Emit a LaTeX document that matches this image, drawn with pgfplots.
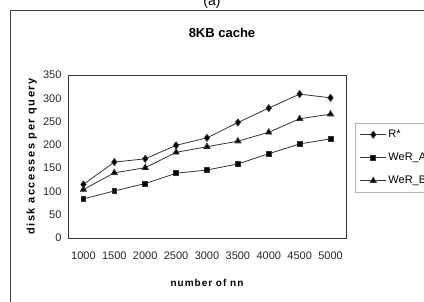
\documentclass[border=0pt]{standalone}
\usepackage{fontspec}
\setmainfont{Liberation Sans}
\usepackage{pgfplots}
\pgfplotsset{compat=1.18}
\begin{document}
\begin{tikzpicture}[x=1pt,y=1pt]
\useasboundingbox (0,0) rectangle (424,301);
\begin{scope}
\clip (0,0) rectangle (424,301);
\draw[line width=1pt, black!75] (10,-10) rectangle (450,291);
\node[anchor=base, font=\fontsize{14}{16}\selectfont] at (212,296) {(a)};
\node[font=\fontsize{13}{15}\selectfont\bfseries] at (222,268) {8KB cache};
\begin{axis}[
  at={(68pt,63pt)}, anchor=south west,
  scale only axis, width=278pt, height=163pt,
  xmin=0.5, xmax=9.5, ymin=0, ymax=350,
  xtick={1,...,9},
  xticklabels={1000,1500,2000,2500,3000,3500,4000,4500,5000},
  ytick={0,50,...,350},
  major tick length=0pt,
  axis line style={black!80, line width=0.8pt},
  tick label style={font=\fontsize{11}{12}\selectfont, black!85},
  /pgf/number format/assume math mode=true,
  yticklabel style={xshift=-3pt},
  xticklabel style={yshift=-10pt},
  xlabel={\addfontfeatures{LetterSpace=10}\bfseries number of nn},
  ylabel={\addfontfeatures{LetterSpace=14}\bfseries disk accesses per query},
  xlabel style={font=\fontsize{10}{12}\selectfont, at={(axis description cs:0.5,0)}, yshift=-38pt, anchor=north},
  ylabel style={font=\fontsize{11}{12}\selectfont, at={(axis description cs:-0.13,0.5)}, anchor=center, rotate=0},
  legend style={at={(1.032,0.706)}, anchor=north west, draw=black!30,
    font=\fontsize{11}{12}\selectfont, row sep=10pt, inner sep=5pt,
    legend cell align=left, fill=white},
  legend image code/.code={\draw[mark repeat=2,mark phase=2] plot coordinates {(0cm,0cm) (0.45cm,0cm) (0.9cm,0cm)};},
  clip=false,
]
\addplot[black!80, line width=0.8pt, mark=diamond*, mark size=3.5pt, mark options={fill=black}] coordinates {
(1,115) (2,163) (3,170) (4,199) (5,215) (6,248) (7,279) (8,309) (9,301)};
\addlegendentry{R*}
\addplot[black!80, line width=0.8pt, mark=square*, mark size=2.4pt, mark options={fill=black}] coordinates {
(1,84) (2,101) (3,117) (4,139) (5,146) (6,159) (7,181) (8,202) (9,213)};
\addlegendentry{WeR\_A}
\addplot[black!80, line width=0.8pt, mark=triangle*, mark size=3.5pt, mark options={fill=black}] coordinates {
(1,104) (2,140) (3,151) (4,184) (5,196) (6,208) (7,227) (8,256) (9,266)};
\addlegendentry{WeR\_B}
\end{axis}
\end{scope}
\end{tikzpicture}
\end{document}
